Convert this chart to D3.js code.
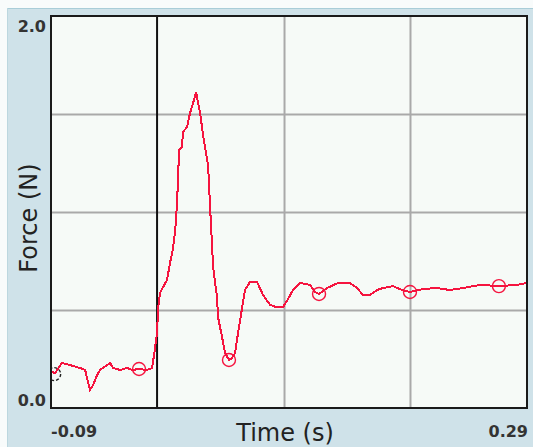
<!DOCTYPE html>
<html>
<head>
<meta charset="utf-8">
<script src="https://cdn.jsdelivr.net/npm/d3@7"></script>
<style>
  html, body { margin: 0; padding: 0; background: #f8fbfb; }
  svg { display: block; }
</style>
</head>
<body>
<svg id="chart" width="533" height="447"></svg>
<script>
// ---- data ----
const timeDomain = [-0.085, 0.2929];
const forceDomain = [0, 2.0];
const xTickLabels = ["-0.09", "0.29"];
const yTickLabels = ["0.0", "2.0"];
const xGridValues = [0.1, 0.2];
const yGridValues = [0.5, 1.0, 1.5];
const triggerTime = [0];

const times = [-0.0849,-0.0817,-0.0762,-0.0698,-0.0619,-0.0579,-0.0556,-0.0540,-0.0516,-0.0484,
  -0.0460,-0.0405,-0.0381,-0.0357,-0.0302,-0.0246,-0.0206,-0.0151,-0.0087,-0.0048,
  -0.0032,-0.0008,0.0000,0.0016,0.0040,0.0071,0.0095,0.0119,0.0135,0.0151,
  0.0167,0.0190,0.0198,0.0230,0.0254,0.0278,0.0302,0.0317,0.0333,0.0357,
  0.0397,0.0413,0.0437,0.0468,0.0476,0.0508,0.0532,0.0563,0.0587,0.0611,
  0.0635,0.0667,0.0690,0.0730,0.0786,0.0833,0.0889,0.0937,0.0992,0.1032,
  0.1071,0.1127,0.1206,0.1246,0.1278,0.1341,0.1429,0.1524,0.1579,0.1627,
  0.1683,0.1738,0.1786,0.1865,0.1937,0.2000,0.2103,0.2214,0.2317,0.2421,
  0.2556,0.2706,0.2849,0.2929];
const forces = [0.184,0.179,0.230,0.219,0.204,0.194,0.133,0.092,0.117,0.168,
  0.194,0.219,0.230,0.204,0.194,0.204,0.194,0.199,0.194,0.204,
  0.270,0.383,0.510,0.587,0.617,0.653,0.740,0.816,0.898,1.046,
  1.316,1.332,1.408,1.434,1.505,1.556,1.612,1.556,1.510,1.393,
  1.240,1.026,0.719,0.566,0.464,0.362,0.281,0.245,0.255,0.281,
  0.383,0.510,0.602,0.643,0.643,0.577,0.526,0.515,0.515,0.556,
  0.602,0.638,0.628,0.592,0.582,0.612,0.638,0.638,0.612,0.577,
  0.577,0.602,0.612,0.622,0.602,0.592,0.607,0.612,0.602,0.612,
  0.628,0.622,0.628,0.638];

const markerTimes = [-0.0151, 0.0563, 0.1278, 0.2000, 0.2706];
const markerForces = [0.199, 0.245, 0.582, 0.592, 0.622];
const cursorTime = [-0.0825];
const cursorForce = [0.173];

const xLabel = "Time (s)";
const yLabel = "Force (N)";

// ---- layout ----
const svg = d3.select("#chart");
const W = 533, H = 447;
const plot = { left: 51, top: 16, right: 527, bottom: 408 };

svg.append("rect").attr("x", 7).attr("y", 8).attr("width", W - 7).attr("height", H - 8)
  .attr("fill", "#cfe2e9");
svg.append("line").attr("x1", 7).attr("x2", W).attr("y1", 8.5).attr("y2", 8.5)
  .attr("stroke", "#a9cdd8").attr("stroke-width", 1);
svg.append("line").attr("x1", 7.5).attr("x2", 7.5).attr("y1", 8).attr("y2", H)
  .attr("stroke", "#bcd7df").attr("stroke-width", 1);

const x = d3.scaleLinear().domain(timeDomain).range([plot.left, plot.right]);
const y = d3.scaleLinear().domain(forceDomain).range([plot.bottom, plot.top]);

svg.append("rect").attr("x", plot.left).attr("y", plot.top)
  .attr("width", plot.right - plot.left).attr("height", plot.bottom - plot.top)
  .attr("fill", "#f6faf7");

svg.append("clipPath").attr("id", "clip").append("rect")
  .attr("x", plot.left).attr("y", plot.top)
  .attr("width", plot.right - plot.left).attr("height", plot.bottom - plot.top);

// grid via axes
const gx = svg.append("g").attr("transform", `translate(0,${plot.bottom})`)
  .call(d3.axisBottom(x).tickValues(xGridValues).tickSize(-(plot.bottom - plot.top)).tickFormat(""));
gx.select(".domain").remove();
gx.selectAll(".tick line").attr("stroke", "#a9a9a9").attr("stroke-width", 2);

const gy = svg.append("g").attr("transform", `translate(${plot.left},0)`)
  .call(d3.axisLeft(y).tickValues(yGridValues).tickSize(-(plot.right - plot.left)).tickFormat(""));
gy.select(".domain").remove();
gy.selectAll(".tick line").attr("stroke", "#a9a9a9").attr("stroke-width", 2);

// trigger line
svg.selectAll(".trigger").data(triggerTime).enter().append("line")
  .attr("x1", d => x(d) - 1).attr("x2", d => x(d) - 1)
  .attr("y1", plot.top).attr("y2", plot.bottom)
  .attr("stroke", "#111").attr("stroke-width", 2);

// data
const pts = times.map((t, i) => [t, forces[i]]);
const g = svg.append("g").attr("clip-path", "url(#clip)");
g.append("path").datum(pts)
  .attr("d", d3.line().x(d => x(d[0])).y(d => y(d[1])))
  .attr("fill", "none").attr("stroke", "#f5143f").attr("stroke-width", 2)
  .attr("stroke-linejoin", "miter").attr("shape-rendering", "crispEdges");

g.selectAll(".marker").data(markerTimes).enter().append("circle")
  .attr("cx", d => x(d)).attr("cy", (d, i) => y(markerForces[i])).attr("r", 6.5)
  .attr("fill", "none").attr("stroke", "#f5143f").attr("stroke-width", 1.4);

g.selectAll(".cursor").data(cursorTime).enter().append("circle")
  .attr("cx", d => x(d)).attr("cy", (d, i) => y(cursorForce[i])).attr("r", 6.5)
  .attr("fill", "none").attr("stroke", "#222").attr("stroke-width", 1.4)
  .attr("stroke-dasharray", "3,2");

// frame
svg.append("rect").attr("x", plot.left).attr("y", plot.top)
  .attr("width", plot.right - plot.left).attr("height", plot.bottom - plot.top)
  .attr("fill", "none").attr("stroke", "#1a1a1a").attr("stroke-width", 2);

// tick labels
const tickFont = "DejaVu Sans, Verdana, sans-serif";
svg.append("text").attr("x", plot.left - 5).attr("y", y(forceDomain[1]) + 16)
  .attr("text-anchor", "end").attr("font-family", tickFont).attr("font-weight", "bold")
  .attr("font-size", 16).attr("fill", "#333").text(yTickLabels[1]);
svg.append("text").attr("x", plot.left - 5).attr("y", y(forceDomain[0]) - 2)
  .attr("text-anchor", "end").attr("font-family", tickFont).attr("font-weight", "bold")
  .attr("font-size", 16).attr("fill", "#333").text(yTickLabels[0]);
svg.append("text").attr("x", x(timeDomain[0])).attr("y", 437)
  .attr("text-anchor", "start").attr("font-family", tickFont).attr("font-weight", "bold")
  .attr("font-size", 16).attr("fill", "#333").text(xTickLabels[0]);
svg.append("text").attr("x", x(timeDomain[1]) + 1).attr("y", 437)
  .attr("text-anchor", "end").attr("font-family", tickFont).attr("font-weight", "bold")
  .attr("font-size", 16).attr("fill", "#333").text(xTickLabels[1]);

// axis titles
svg.append("text").attr("x", 285).attr("y", 441).attr("text-anchor", "middle")
  .attr("font-family", tickFont).attr("font-size", 24).attr("fill", "#222").text(xLabel);
svg.append("text").attr("transform", "translate(37,218) rotate(-90)").attr("text-anchor", "middle")
  .attr("font-family", tickFont).attr("font-size", 24).attr("fill", "#222").text(yLabel);
</script>
</body>
</html>
